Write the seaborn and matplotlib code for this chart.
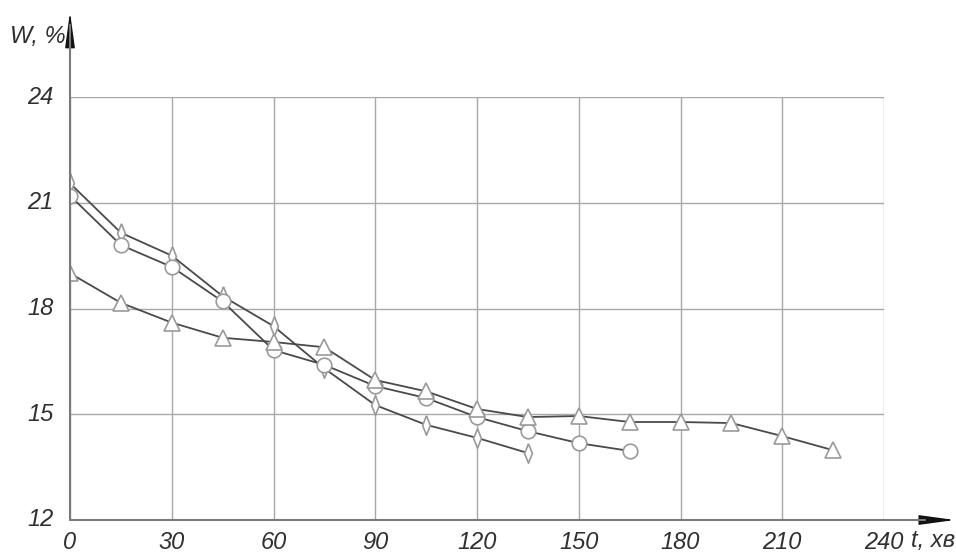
import matplotlib
matplotlib.use("Agg")
import matplotlib.pyplot as plt
import seaborn as sns
import pandas as pd

# ---- data ----
t_diamond = [0, 15, 30, 45, 60, 75, 90, 105, 120, 135]
w_diamond = [21.55, 20.15, 19.5, 18.35, 17.5, 16.3, 15.26, 14.7, 14.33, 13.9]

t_circle = [0, 15, 30, 45, 60, 75, 90, 105, 120, 135, 150, 165]
w_circle = [21.2, 19.8, 19.18, 18.2, 16.82, 16.4, 15.8, 15.46, 14.92, 14.52, 14.18, 13.96]

t_triangle = [0, 15, 30, 45, 60, 75, 90, 105, 120, 135, 150, 165, 180, 195, 210, 225]
w_triangle = [19.0, 18.16, 17.6, 17.17, 17.05, 16.9, 15.97, 15.65, 15.15, 14.92, 14.95,
              14.78, 14.78, 14.75, 14.38, 13.98]

x_ticks = [0, 30, 60, 90, 120, 150, 180, 210, 240]
y_ticks = [12, 15, 18, 21, 24]
x_label = "t, хв"
y_label = "W, %"

sns.set_style("white")
plt.rcParams["font.family"] = ["Liberation Sans", "DejaVu Sans"]

fig = plt.figure(figsize=(9.56, 5.56), dpi=100)
W, H = 956, 556
x0, x1 = 70, 884
y0, y1 = 520, 97
ax = fig.add_axes([x0 / W, 1 - y0 / H, (x1 - x0) / W, (y0 - y1) / H])

line_col = "#4a4a4a"
edge_col = "#9a9a9a"

thin_diamond = [(0, 1), (0.4, 0), (0, -1), (-0.4, 0), (0, 1)]

df_d = pd.DataFrame({"t": t_diamond, "w": w_diamond})
df_c = pd.DataFrame({"t": t_circle, "w": w_circle})
df_t = pd.DataFrame({"t": t_triangle, "w": w_triangle})

sns.lineplot(data=df_d, x="t", y="w", ax=ax, color=line_col, lw=1.3,
             marker=thin_diamond, markersize=14, markerfacecolor="white",
             markeredgecolor=edge_col, markeredgewidth=1.2, zorder=3)
sns.lineplot(data=df_c, x="t", y="w", ax=ax, color=line_col, lw=1.3,
             marker="o", markersize=10.5, markerfacecolor="white",
             markeredgecolor=edge_col, markeredgewidth=1.2, zorder=4)
sns.lineplot(data=df_t, x="t", y="w", ax=ax, color=line_col, lw=1.3,
             marker="^", markersize=12, markerfacecolor="white",
             markeredgecolor=edge_col, markeredgewidth=1.2, zorder=5)

ax.set_xlim(0, 240)
ax.set_ylim(12, 24)
ax.set_xticks(x_ticks)
ax.set_yticks(y_ticks)
ax.grid(True, color="#a8a8a8", lw=1.0, zorder=0)
ax.set_axisbelow(True)
for s in ax.spines.values():
    s.set_visible(False)
ax.set_xlabel("")
ax.set_ylabel("")
ax.tick_params(length=0)
ax.set_xticklabels([])
ax.set_yticklabels([])

font_kw = dict(fontsize=17, fontstyle="italic", color="#303030")
for xv in x_ticks:
    ax.text(xv, 12 - 0.3, str(xv), ha="center", va="top", **font_kw)
for yv in y_ticks:
    ax.text(-4.8, yv, str(yv), ha="right", va="center", **font_kw)

# axis lines with arrows
ax_col = "#7a7a7a"
ax.plot([0, 0], [0, 1.17], transform=ax.transAxes, color=ax_col, lw=1.5,
        clip_on=False, zorder=6)
ax.plot([0, 1.05], [0, 0], transform=ax.transAxes, color=ax_col, lw=1.5,
        clip_on=False, zorder=6)
ax.annotate("", xy=(0, 1.201), xycoords="axes fraction", xytext=(0, 1.125),
            arrowprops=dict(arrowstyle="-|>,head_length=1.1,head_width=0.15",
                            mutation_scale=20, color="#111111", lw=1.0,
                            shrinkA=0, shrinkB=0))
ax.annotate("", xy=(1.087, 0), xycoords="axes fraction", xytext=(1.04, 0),
            arrowprops=dict(arrowstyle="-|>,head_length=1.1,head_width=0.15",
                            mutation_scale=20, color="#111111", lw=1.0,
                            shrinkA=0, shrinkB=0))

fig.text(10 / W, 1 - 37 / H, y_label, ha="left", va="center", **font_kw)
fig.text(911 / W, 1 - 541 / H, x_label, ha="left", va="center", **font_kw)

fig.savefig("out.png", dpi=100)
